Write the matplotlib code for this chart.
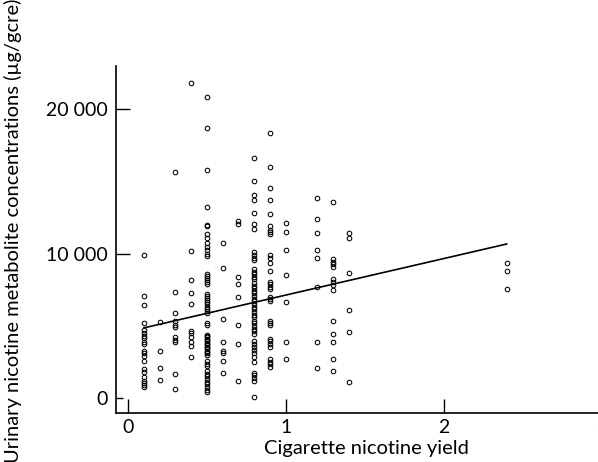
import numpy as np
import matplotlib
matplotlib.use("Agg")
import matplotlib.pyplot as plt

plt.rcParams['font.family'] = ['Lato', 'DejaVu Sans']

yield_levels = [0.1, 0.2, 0.3, 0.4, 0.5, 0.6, 0.7, 0.8, 0.9, 1.0, 1.2, 1.3, 1.4, 2.4]

conc_01 = [9900, 7100, 6450, 5200, 4700, 4500, 4300, 4150, 3900, 3750, 3250, 3100,
           2900, 2600, 2000, 1800, 1500, 1200, 1050, 900, 750]
conc_02 = [5300, 3250, 2100, 1250]
conc_03 = [15650, 7330, 5910, 5310, 5090, 4900, 4240, 4050, 3870, 1650, 620]
conc_04 = [21800, 10150, 8150, 7280, 6480, 4630, 4490, 4200, 3920, 3600, 2820]
conc_05 = [20800, 18650, 15800, 13200, 12000, 11900, 11360, 11090, 10700, 10470,
           10240, 10000, 9850, 8570, 8430, 8300, 8160, 8020, 7880, 7200, 7050, 6900,
           6780, 6640, 6500, 6340, 6180, 6000, 5860, 5200, 5040, 4400, 4330, 4260,
           4120, 4050, 3980, 3850, 3780, 3710, 3570, 3500, 3440, 3300, 3230, 3160,
           3020, 2560, 2380, 2200, 1880, 1700, 1510, 1330, 1150, 960, 780, 600, 410]
conc_06 = [10700, 8980, 5480, 3900, 3300, 3110, 2560, 1770]
conc_07 = [12230, 12050, 8360, 7900, 6990, 5040, 3780, 1190]
conc_08 = [16630, 14980, 14070, 13680, 12800, 12030, 11680, 10080, 9900, 9710, 9530,
           8900, 8750, 8560, 8380, 8220, 7950, 7790, 7600, 7420, 7240, 7060, 6870,
           6690, 6510, 6320, 6140, 5960, 5770, 5590, 5360, 5180, 5000, 4810, 4630,
           4450, 3940, 3760, 3570, 3370, 3140, 2840, 2520, 1770, 1580, 1400, 1220, 90]
conc_09 = [18350, 16010, 14500, 13680, 12760, 11890, 11660, 11480, 11340, 9900, 9710,
           9320, 8800, 8060, 7880, 7700, 7560, 7030, 6870, 6690, 5360, 5200, 5040,
           4120, 3940, 3760, 3570, 2680, 2520, 2340, 2180]
conc_10 = [12140, 11480, 10270, 8540, 6670, 3920, 2680]
conc_12 = [13830, 12380, 11390, 10240, 9670, 7720, 3900, 2110]
conc_13 = [13560, 9600, 9440, 9280, 9090, 8230, 8040, 7860, 7490, 5360, 4470, 3870,
           2730, 1880]
conc_14 = [11430, 11090, 8640, 6120, 4560, 1150]
conc_24 = [9330, 8800, 7580]

all_conc = [conc_01, conc_02, conc_03, conc_04, conc_05, conc_06, conc_07, conc_08,
            conc_09, conc_10, conc_12, conc_13, conc_14, conc_24]

# regression line as drawn
fit_intercept = 4610
fit_slope = 2520
fit_range = [0.1, 2.4]

x_ticks = [0, 1, 2, 3]
y_ticks = [0, 10000, 20000]
y_ticklabels = ['0', '10 000', '20 000']

xs = np.concatenate([[lv] * len(c) for lv, c in zip(yield_levels, all_conc)])
ys = np.concatenate(all_conc)

fig = plt.figure(figsize=(5.98, 4.62), dpi=100)
ax = fig.add_axes([0.194, 0.105, 0.838, 0.752])

ax.plot(xs, ys, linestyle='none', marker='o', mfc='none', mec='black',
        ms=3.3, mew=0.75)
fx = np.array(fit_range)
ax.plot(fx, fit_intercept + fit_slope * fx, color='black', lw=1.2)

ax.set_xlim(-0.076, 3.1)
ax.set_ylim(-1050, 22950)
ax.set_xticks(x_ticks)
ax.set_yticks(y_ticks)
ax.set_yticklabels(y_ticklabels)

for s in ['top', 'right']:
    ax.spines[s].set_visible(False)
for s in ['left', 'bottom']:
    ax.spines[s].set_linewidth(1.2)

ax.tick_params(direction='in', length=10, width=1.0, labelsize=14, colors='black')
ax.tick_params(axis='y', pad=6)
ax.tick_params(axis='x', pad=4)
ax.yaxis.get_major_ticks()[0].tick1line.set_markersize(5)

ax.set_xlabel('Cigarette nicotine yield', fontsize=14.5, labelpad=3)
fig.text(0.021, 0.5, 'Urinary nicotine metabolite concentrations (\u00b5g/gcre)',
         rotation=90, va='center', ha='center', fontsize=14.5)

fig.savefig('out.png', dpi=100)
